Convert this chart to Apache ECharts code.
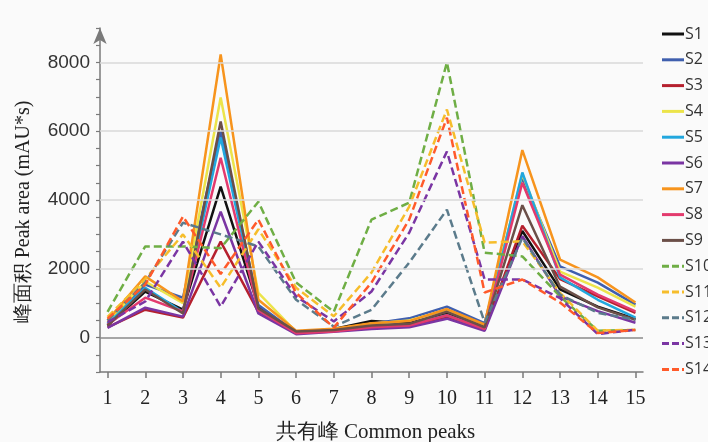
<!DOCTYPE html>
<html><head><meta charset="utf-8">
<script src="https://cdn.jsdelivr.net/npm/echarts@6/dist/echarts.min.js"></script>
<style>html,body{margin:0;padding:0;background:#fafafa}#c{width:708px;height:442px}</style>
</head><body><div id="c"></div>
<script>
const categories = [1,2,3,4,5,6,7,8,9,10,11,12,13,14,15];
const seriesNames = ['S1','S2','S3','S4','S5','S6','S7','S8','S9','S10','S11','S12','S13','S14'];
const S1  = [350, 1340, 810, 4390, 900, 150, 250, 480, 420, 700, 280, 3100, 1400, 900, 540];
const S2  = [400, 1540, 1160, 6000, 950, 150, 230, 400, 560, 900, 420, 4650, 2070, 1600, 960];
const S3  = [300, 810, 580, 2790, 750, 150, 200, 300, 350, 600, 220, 3250, 1700, 1200, 720];
const S4  = [450, 1630, 1000, 6980, 1300, 170, 240, 400, 500, 800, 350, 4750, 1920, 1450, 900];
const S5  = [400, 1450, 740, 5820, 800, 130, 190, 320, 380, 650, 250, 4800, 1750, 1100, 580];
const S6  = [280, 870, 610, 3660, 700, 100, 170, 250, 300, 550, 200, 2950, 1200, 770, 430];
const S7  = [500, 1780, 1050, 8230, 1100, 200, 260, 420, 480, 830, 380, 5450, 2270, 1750, 1020];
const S8  = [380, 1160, 760, 5230, 800, 130, 180, 300, 350, 650, 250, 4500, 1830, 1250, 760];
const S9  = [350, 1400, 700, 6280, 850, 180, 220, 350, 400, 750, 300, 3850, 1480, 880, 520];
const S10 = [750, 2650, 2650, 2600, 3950, 1600, 750, 3430, 3920, 8000, 2470, 2360, 1200, 200, 220];
const S11 = [600, 1700, 3000, 1450, 3150, 1450, 620, 1890, 3810, 6630, 2760, 2800, 1300, 200, 230];
const S12 = [500, 1600, 3340, 3000, 2650, 1100, 320, 810, 2180, 3720, 440, 2900, 1250, 720, 520];
const S13 = [450, 1050, 2790, 900, 2790, 1200, 470, 1340, 3050, 5410, 1690, 1690, 1150, 100, 230];
const S14 = [550, 1540, 3520, 1850, 3430, 1300, 290, 1600, 3430, 6390, 1310, 1690, 1020, 130, 220];
const values = [S1,S2,S3,S4,S5,S6,S7,S8,S9,S10,S11,S12,S13,S14];
const colors = ['#111111','#3f5fae','#b5202e','#ece44a','#22a7de','#7a35a3','#f7941d','#e33a6d','#6b4f48',
                '#6fae45','#f6bd2b','#5b7b8b','#7a35a3','#ff5a2a'];
const yLabels = [0, 2000, 4000, 6000, 8000];
const yTicks = [];
for (let v = -1000; v <= 9000; v += 500) yTicks.push(v);

const solidIcon = 'path://M0,0L22,0L22,3L0,3Z';
const dashIcon = 'path://M0,0L7,0L7,3L0,3Z M10,0L17,0L17,3L10,3Z M20,0L22,0L22,3L20,3Z';

const chart = echarts.init(document.getElementById('c'), null, {renderer: 'canvas'});
const series = values.map((arr, i) => ({
  name: seriesNames[i],
  type: 'line',
  data: arr.map((v, j) => [categories[j], v]),
  symbol: 'none',
  showSymbol: false,
  z: 3,
  lineStyle: {color: colors[i], width: 2.5, type: i >= 9 ? [8, 4] : 'solid'},
  itemStyle: {color: colors[i]}
}));
series.unshift({
  name: 'grid', type: 'line', data: [], z: 1, silent: true,
  markLine: {
    silent: true, symbol: ['none','none'], label: {show: false},
    data: yLabels.map(v => ({yAxis: v, lineStyle: {color: v === 0 ? '#8a8a8a' : '#d9d9d9', width: 1.5, type: 'solid'}}))
  }
});
chart.setOption({
  backgroundColor: '#fafafa',
  animation: false,
  grid: {left: 100, right: 65, top: 28, bottom: 70, containLabel: false, outerBoundsMode: 'none'},
  legend: {
    data: seriesNames.map((n, i) => ({name: n, icon: i >= 9 ? dashIcon : solidIcon,
                                      itemStyle: {color: colors[i]}})),
    orient: 'vertical', left: 657, top: 21,
    itemWidth: 22, itemHeight: 3, itemGap: 9.8,
    textStyle: {fontFamily: 'Open Sans', fontSize: 16, color: '#333', lineHeight: 16, padding: [0,0,0,-4]}
  },
  xAxis: {
    type: 'value', min: 0.8, max: 15.2,
    name: '共有峰 Common peaks', nameLocation: 'middle', nameGap: 50,
    nameTextStyle: {fontFamily: 'Liberation Serif', fontSize: 21, color: '#222', padding: [0, 0, 0, 8]},
    axisLine: {onZero: false, lineStyle: {color: '#7a7a7a', width: 1.5}},
    axisTick: {show: true, customValues: categories, length: 6, inside: false, lineStyle: {color: '#7a7a7a', width: 1.5}},
    axisLabel: {customValues: categories, fontFamily: 'Liberation Serif', fontSize: 20, color: '#222', margin: 17},
    splitLine: {show: false}
  },
  yAxis: {
    type: 'value', min: -1000, max: 9000,
    name: '峰面积 Peak area (mAU*s)', nameLocation: 'middle', nameGap: 66,
    nameTextStyle: {fontFamily: 'Liberation Serif', fontSize: 20, color: '#222', padding: [0, 24, 0, 0]},
    axisLine: {show: true, onZero: false, symbol: ['none', 'arrow'], symbolSize: [10, 16], symbolOffset: [0, 0],
               lineStyle: {color: '#7a7a7a', width: 1.5}},
    axisTick: {show: true, customValues: yTicks, length: 4, lineStyle: {color: '#7a7a7a', width: 1.2}},
    axisLabel: {customValues: yLabels, formatter: v => String(v), fontFamily: 'Liberation Sans', fontSize: 19, color: '#333', margin: 10},
    splitLine: {show: false}
  },
  series: series
});
</script></body></html>
